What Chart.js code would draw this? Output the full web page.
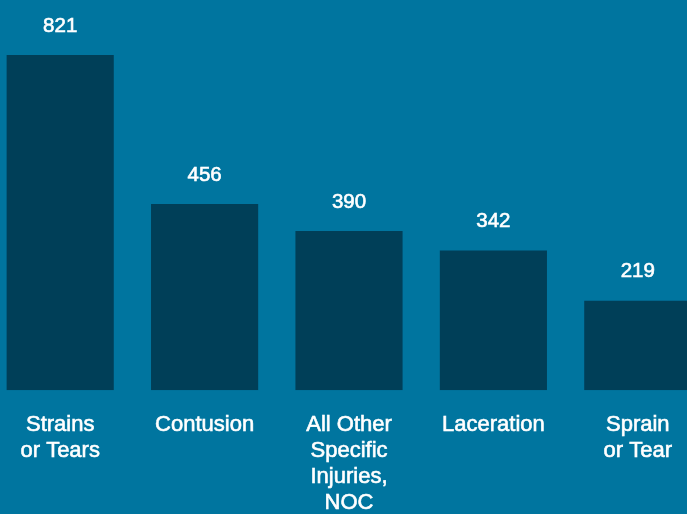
<!DOCTYPE html>
<html>
<head>
<meta charset="utf-8">
<script src="https://cdn.jsdelivr.net/npm/chart.js@4/dist/chart.umd.min.js"></script>
<style>
    html, body {
        margin: 0;
        padding: 0;
        width: 687px;
        height: 514px;
        overflow: hidden;
        background: #00759F;
    }
    .chart-box {
        position: absolute;
        left: -12px;
        top: 0;
        width: 722px;
        height: 538px;
    }
</style>
</head>
<body>
<div class="chart-box">
    <canvas id="injuryChart"></canvas>
</div>
<script>
// Injury types and counts
const categories = [
    ['Strains', 'or Tears'],
    'Contusion',
    ['All Other', 'Specific', 'Injuries,', 'NOC'],
    'Laceration',
    ['Sprain', 'or Tear']
];
const counts = [821, 456, 390, 342, 219];

// Number above each bar
const valueLabels = {
    id: 'valueLabels',
    afterDatasetsDraw(chart) {
        const ctx = chart.ctx;
        const meta = chart.getDatasetMeta(0);
        ctx.save();
        ctx.fillStyle = '#ffffff';
        ctx.strokeStyle = '#ffffff';
        ctx.lineWidth = 0.6;
        ctx.font = '20.5px "Liberation Sans", Arial, sans-serif';
        ctx.textAlign = 'center';
        ctx.textBaseline = 'middle';
        meta.data.forEach((bar, i) => {
            ctx.fillText(String(counts[i]), bar.x, bar.y - 29);
            ctx.strokeText(String(counts[i]), bar.x, bar.y - 29);
        });
        ctx.restore();
    }
};

new Chart(document.getElementById('injuryChart'), {
    type: 'bar',
    data: {
        labels: categories,
        datasets: [{
            data: counts,
            backgroundColor: '#003F58',
            borderWidth: 0,
            barPercentage: 0.742,
            categoryPercentage: 1
        }]
    },
    options: {
        responsive: true,
        maintainAspectRatio: false,
        animation: false,
        layout: {
            padding: 0
        },
        plugins: {
            legend: { display: false },
            tooltip: { enabled: false }
        },
        scales: {
            x: {
                grid: { display: false, drawTicks: false },
                border: { display: false },
                ticks: {
                    color: '#ffffff',
                    textStrokeColor: '#ffffff',
                    textStrokeWidth: 0.6,
                    padding: 22,
                    maxRotation: 0,
                    autoSkip: false,
                    font: {
                        family: '"Liberation Sans", Arial, sans-serif',
                        size: 22,
                        lineHeight: 1.18
                    }
                }
            },
            y: {
                display: false,
                min: 0,
                max: 956
            }
        }
    },
    plugins: [valueLabels]
});
</script>
</body>
</html>
